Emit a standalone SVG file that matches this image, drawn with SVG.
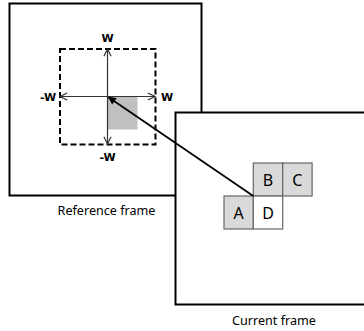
<svg xmlns="http://www.w3.org/2000/svg" width="364" height="331" viewBox="0 0 364 331">
<defs>
<style>
.frame{fill:#fff;stroke:#000;stroke-width:2}
.lbl{font-family:"Noto Sans","DejaVu Sans",sans-serif;font-size:12.6px;fill:#000;text-anchor:middle}
.w{font-family:"DejaVu Sans","Liberation Sans",sans-serif;font-size:11px;font-weight:bold;fill:#000;text-anchor:middle}
.cell{stroke:#666;stroke-width:1.2}
.cl{font-family:"Noto Sans","DejaVu Sans",sans-serif;font-size:16px;fill:#000;text-anchor:middle}
.ax{stroke:#333;stroke-width:1.2;fill:none;marker-start:url(#open);marker-end:url(#open)}
</style>
<marker id="open" viewBox="0 0 10 10" refX="9" refY="5" markerWidth="9" markerHeight="9" markerUnits="userSpaceOnUse" orient="auto-start-reverse">
<path d="M1,1 L9,5 L1,9" fill="none" stroke="#333" stroke-width="1.3"/>
</marker>
<marker id="solid" viewBox="0 0 10 10" refX="9" refY="5" markerWidth="10" markerHeight="8" markerUnits="userSpaceOnUse" orient="auto">
<path d="M0,0 L10,5 L0,10 z" fill="#000"/>
</marker>
</defs>
<g id="reference-frame">
<rect class="frame" x="9.5" y="3.5" width="192" height="192"/>
<text class="lbl" x="106.5" y="215">Reference frame</text>
</g>
<g id="search-window">
<rect x="60" y="49" width="95.5" height="95.5" fill="none" stroke="#000" stroke-width="2" stroke-dasharray="6,3"/>
<rect x="107.5" y="96.5" width="30" height="33" fill="#c0c0c0"/>
<text class="w" x="107.5" y="42">W</text>
<text class="w" x="167" y="100.5">W</text>
<text class="w" x="48" y="100.5">-W</text>
<text class="w" x="107.5" y="161">-W</text>
</g>
<g id="axes">
<line class="ax" x1="107.5" y1="49" x2="107.5" y2="144"/>
<line class="ax" x1="60" y1="96.5" x2="155" y2="96.5"/>
</g>
<g id="current-frame">
<rect class="frame" x="175.5" y="112.5" width="200" height="192"/>
<text class="lbl" x="274" y="324.5">Current frame</text>
</g>
<g id="block-B"><rect class="cell" x="253.3" y="163" width="29.4" height="33" fill="#d9d9d9"/><text class="cl" x="268" y="185.5">B</text></g>
<g id="block-C"><rect class="cell" x="282.7" y="163" width="29.4" height="33" fill="#d9d9d9"/><text class="cl" x="297.4" y="185.5">C</text></g>
<g id="block-A"><rect class="cell" x="224" y="196" width="29.3" height="33" fill="#d9d9d9"/><text class="cl" x="238.6" y="218.5">A</text></g>
<g id="block-D"><rect class="cell" x="253.3" y="196" width="29.4" height="33" fill="#fff"/><text class="cl" x="268" y="218.5">D</text></g>
<g id="connectors">
<line x1="253.3" y1="196" x2="108.5" y2="97.2" stroke="#000" stroke-width="1.8" marker-end="url(#solid)"/>
</g>
</svg>
